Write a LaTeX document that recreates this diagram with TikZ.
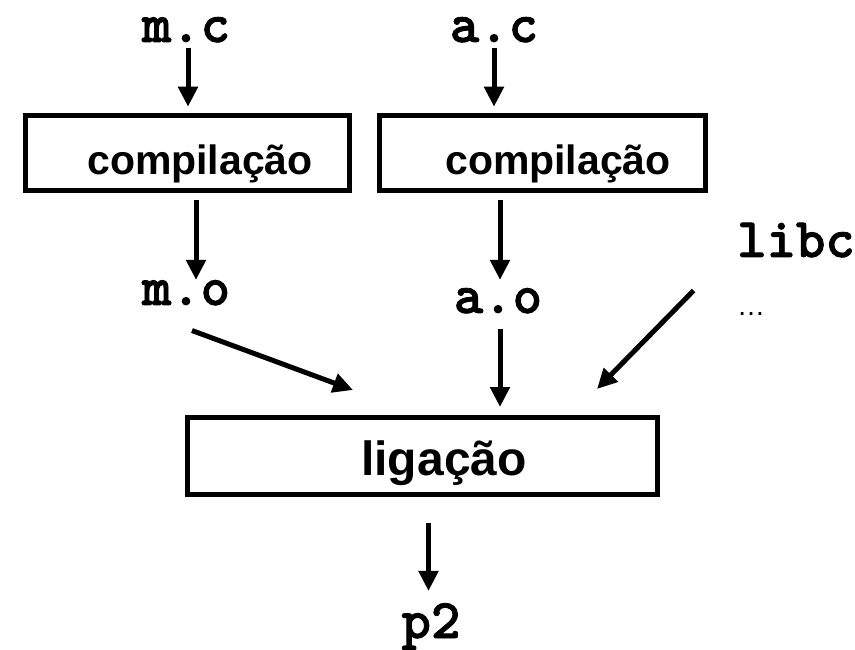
\documentclass[tikz,border=0pt]{standalone}
\usepackage{fontspec}
\setmainfont{Liberation Sans}
\newfontfamily\codefont{lmmonolt10-bold.otf}[FakeBold=1.5]
\usetikzlibrary{arrows.meta}
\tikzset{stage/.style={draw=black,line width=5.5pt,inner sep=0pt},file/.style={font=\codefont\fontsize{56}{58}\selectfont,inner sep=0pt,anchor=base},stagetxt/.style={font=\bfseries\fontsize{41}{44}\selectfont,inner sep=0pt,anchor=base},arr/.style={-{Triangle[length=20pt,width=19pt]},line width=5pt}}

\begin{document}
\begin{tikzpicture}[x=1pt,y=-1pt]
\useasboundingbox (0,0) rectangle (855,650);

% sources
\node[file] (mc) at (186,42) {m.c};
\node[file] (ac) at (494,42) {a.c};
% compile steps
\node[stage,minimum width=324pt,minimum height=75pt] (comp1) at (187.5,153) {};
\node[stage,minimum width=326pt,minimum height=75pt] (comp2) at (542.5,153) {};
\node[stagetxt] (comp1txt) at (200,175) {compilação};
\node[stagetxt] (comp2txt) at (558,175) {compilação};
% object files and libraries
\node[file] (mo) at (186,305) {m.o};
\node[file] (ao) at (498,313) {a.o};
\node[file] (libc) at (796,257) {libc};
\node[font=\fontsize{28}{30}\selectfont,inner sep=0pt,anchor=base] (more) at (751,316) {…};
% link step and result
\node[stage,minimum width=470pt,minimum height=77pt] (link) at (422.5,456) {};
\node[stagetxt,font=\bfseries\fontsize{48}{50}\selectfont] (linktxt) at (444,475) {ligação};
\node[file] (p2) at (431,638) {p2};

\draw[arr] ([xshift=2pt,yshift=-5pt]mc.south) -- ([xshift=2pt,yshift=6pt]mc.south |- comp1.north);
\draw[arr] ([yshift=-5pt]ac.south) -- ([yshift=6pt]ac.south |- comp2.north);
\draw[arr] ([xshift=10pt,yshift=-7pt]mo.north |- comp1.south) -- ([xshift=10pt]mo.north);
\draw[arr] ([xshift=2pt,yshift=-7pt]ao.north |- comp2.south) -- ([xshift=2pt,yshift=8pt]ao.north);
\draw[arr] ([xshift=6pt,yshift=-25pt]mo.south) -- ([xshift=-69.5pt,yshift=24.75pt]link.north);
\draw[arr] ([xshift=2pt,yshift=-15pt]ao.south) -- ([xshift=2pt,yshift=7.75pt]ao.south |- link.north);
\draw[arr] ([xshift=-43.4pt,yshift=-33pt]libc.south west) -- ([xshift=174.5pt,yshift=25.75pt]link.north);
\draw[arr] ([xshift=6pt,yshift=-25.75pt]link.south) -- ([xshift=6pt,yshift=12pt]link.south |- p2.north);
\end{tikzpicture}
\end{document}
